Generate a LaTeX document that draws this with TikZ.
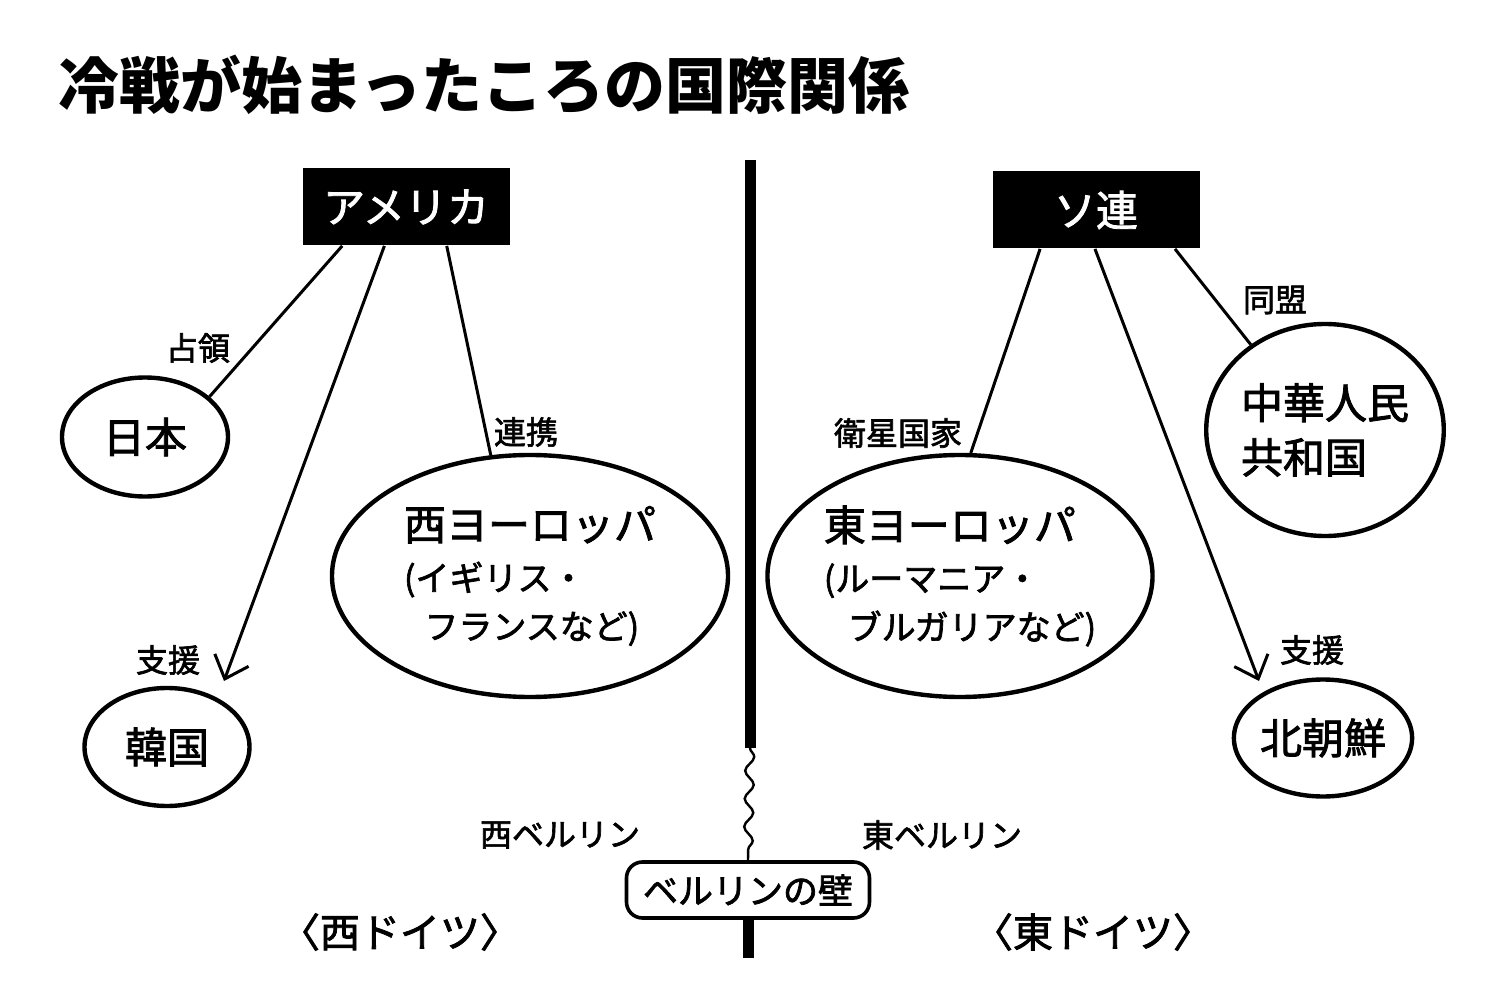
\documentclass[tikz,border=0pt]{standalone}
\usepackage{fontspec}
\setmainfont{Noto Sans CJK JP}
\newfontfamily\medjp{Noto Sans CJK JP}[FakeBold=2]
\usetikzlibrary{shapes.geometric,arrows.meta,decorations.pathmorphing,calc}
\newcommand{\fz}[1]{\fontsize{#1pt}{1.25\dimexpr#1pt\relax}\selectfont}
\begin{document}
\begin{tikzpicture}[x=0.5pt,y=-0.5pt,
  country/.style={draw, line width=2.2pt, ellipse, inner sep=0pt, font=\medjp\fz{21}},
  power/.style={fill=black, text=white, inner sep=0pt, minimum width=103.5pt, minimum height=38.5pt, font=\medjp\fz{21}},
  tag/.style={inner sep=0pt, font=\medjp\fz{16}},
  region/.style={inner sep=0pt, font=\medjp\fz{20}},
  link/.style={line width=1.5pt},
  aid/.style={link, -{Straight Barb[length=10pt,width=18pt,line width=1.5pt]}},
  wallbar/.style={line width=5.5pt}
]
\fill[white] (0,0) rectangle (1500,1000);
\useasboundingbox (0,0) rectangle (1500,1000);

% title
\node[anchor=west, inner sep=0pt, font=\bfseries\fz{30.5}] (title) at (58,85) {冷戦が始まったころの国際関係};

% powers
\node[power] (usa) at (406,207) {アメリカ};
\node[power] (ussr) at (1096,210) {ソ連};

% countries
\node[country, minimum width=83pt, minimum height=59.5pt] (japan) at (145,437) {日本};
\node[country, minimum width=82.5pt, minimum height=59pt] (korea) at (167,747) {韓国};
\node[country, minimum width=198pt, minimum height=121pt, align=left] (weu) at (530,576)
  {西ヨーロッパ\\[-1pt]{\fz{17}(イギリス・}\\[-2pt]{\fz{17}\hspace{0.6em}フランスなど)}};
\node[country, minimum width=191pt, minimum height=121pt, align=left] (eeu) at (960,576)
  {東ヨーロッパ\\[-1pt]{\fz{17}(ルーマニア・}\\[-2pt]{\fz{17}\hspace{0.7em}ブルガリアなど)}};
\node[country, minimum width=114pt, minimum height=106pt, align=left] (china) at (1325,430)
  {中華人民\\[1pt]共和国};
\node[country, minimum width=73.5pt, minimum height=58.5pt] (nk) at (1323,738) {北朝鮮};

% connector endpoints
\coordinate (u1) at ($(usa.south west)!0.193!(usa.south east)$);
\coordinate (u2) at ($(usa.south west)!0.396!(usa.south east)$);
\coordinate (u3) at ($(usa.south west)!0.696!(usa.south east)$);
\coordinate (s1) at ($(ussr.south west)!0.231!(ussr.south east)$);
\coordinate (s2) at ($(ussr.south west)!0.495!(ussr.south east)$);
\coordinate (s3) at ($(ussr.south west)!0.88!(ussr.south east)$);
\coordinate (ktip) at (224,681);
\coordinate (ntip) at (1259,681);

% connectors
\draw[link] (u1) -- (japan.32);
\draw[aid] (u2) -- (ktip);
\draw[link] (u3) -- (weu.108.4);
\draw[link] (s1) -- (eeu.85.2);
\draw[aid] (s2) -- (ntip);
\draw[link] (s3) -- (china.131);

% connector labels
\node[tag] (l1) at (198,348) {占領};
\node[tag] (l2) at (168,660) {支援};
\node[tag] (l3) at (526,432) {連携};
\node[tag] (l4) at (898,433) {衛星国家};
\node[tag] (l5) at (1275,300) {同盟};
\node[tag] (l6) at (1312,650) {支援};

% Berlin wall
\node[draw, line width=1.8pt, rounded corners=8pt, inner sep=0pt, minimum width=121.5pt, minimum height=28pt, font=\medjp\fz{17.5}, fill=white] (wall) at (748,890) {ベルリンの壁};
\coordinate (wtop) at (750,160);
\coordinate (wmid) at (750,748);
\coordinate (wbot) at (748,958);
\draw[wallbar] (wtop) -- (wmid);
\draw[line width=1.2pt, decorate, decoration={snake, segment length=14pt, amplitude=2.2pt}] (wmid) -- (wall.north);
\draw[wallbar] (wall.south) -- (wbot);

\node[tag] (wb) at (560,835) {西ベルリン};
\node[tag] (eb) at (942,835) {東ベルリン};
\node[region] (wg) at (400,932) {〈西ドイツ〉};
\node[region] (eg) at (1093,932) {〈東ドイツ〉};
\end{tikzpicture}
\end{document}
